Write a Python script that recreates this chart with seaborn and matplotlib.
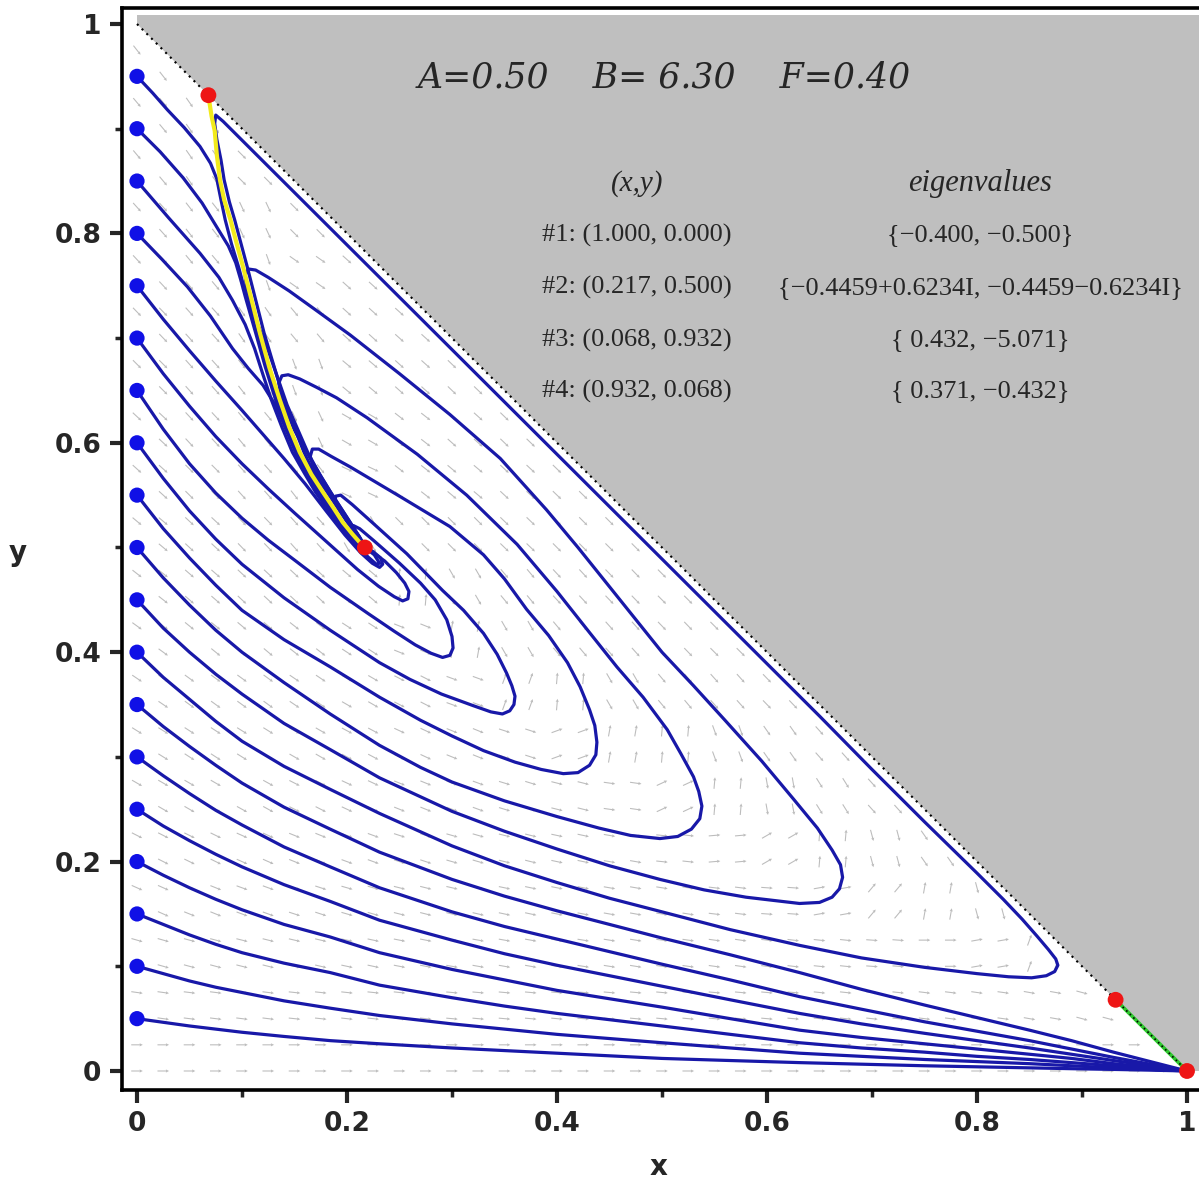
import numpy as np
import pandas as pd
import matplotlib
matplotlib.use("Agg")
import matplotlib.pyplot as plt
import seaborn as sns

# ---------------- data ----------------
start_y = [0.05, 0.10, 0.15, 0.20, 0.25, 0.30, 0.35, 0.40, 0.45, 0.50,
           0.55, 0.60, 0.65, 0.70, 0.75, 0.80, 0.85, 0.90, 0.95]

# fixed points (#1..#4)
fixed_x = [1.000, 0.217, 0.068, 0.932]
fixed_y = [0.000, 0.500, 0.932, 0.068]

# trajectories ending in (1, 0)
low_x = [0, 0.025, 0.05, 0.075, 0.10, 0.14, 0.184, 0.231, 0.30, 0.35, 0.40, 0.45, 0.50,
         0.565, 0.631, 0.69, 0.75, 0.80, 0.85, 0.89, 0.93, 0.965, 1.0]
t05_y = [0.05, 0.0465, 0.043, 0.040, 0.037, 0.033, 0.029, 0.026, 0.022, 0.0195, 0.017, 0.0145, 0.012,
         0.010, 0.008, 0.0065, 0.005, 0.004, 0.003, 0.0022, 0.0015, 0.0008, 0.0]
t10_y = [0.10, 0.093, 0.086, 0.080, 0.075, 0.067, 0.060, 0.053, 0.045, 0.040, 0.035, 0.031, 0.027,
         0.022, 0.017, 0.014, 0.011, 0.009, 0.007, 0.005, 0.003, 0.0015, 0.0]
t15_y = [0.15, 0.140, 0.130, 0.121, 0.113, 0.103, 0.094, 0.082, 0.070, 0.062, 0.055, 0.049, 0.043,
         0.035, 0.027, 0.022, 0.018, 0.014, 0.011, 0.008, 0.005, 0.0025, 0.0]
t20_y = [0.20, 0.187, 0.175, 0.164, 0.154, 0.140, 0.128, 0.113, 0.097, 0.087, 0.077, 0.069, 0.061,
         0.050, 0.039, 0.032, 0.026, 0.021, 0.016, 0.012, 0.007, 0.0035, 0.0]
t25_y = [0.25, 0.234, 0.220, 0.207, 0.195, 0.178, 0.162, 0.144, 0.125, 0.112, 0.101, 0.091, 0.081,
         0.068, 0.055, 0.045, 0.036, 0.029, 0.022, 0.016, 0.010, 0.005, 0.0]
t30_y = [0.30, 0.282, 0.265, 0.249, 0.235, 0.214, 0.195, 0.175, 0.152, 0.138, 0.126, 0.114, 0.102,
         0.087, 0.071, 0.059, 0.047, 0.038, 0.029, 0.021, 0.013, 0.0065, 0.0]
t35_y = [0.35, 0.329, 0.310, 0.292, 0.275, 0.252, 0.231, 0.209, 0.183, 0.167, 0.153, 0.140, 0.127,
         0.111, 0.094, 0.078, 0.063, 0.051, 0.039, 0.029, 0.018, 0.009, 0.0]

# trajectories spiralling into (0.217, 0.5)
t40_x = [0, 0.025, 0.05, 0.075, 0.10, 0.14, 0.184, 0.231, 0.30, 0.35, 0.40, 0.45, 0.50, 0.565, 0.631,
         0.69, 0.75, 0.80, 0.83, 0.852, 0.866, 0.874, 0.877, 0.875, 0.868, 0.857, 0.843, 0.825,
         0.80, 0.75, 0.70, 0.65, 0.60, 0.50, 0.40, 0.30, 0.20, 0.14, 0.10, 0.082, 0.075,
         0.074, 0.076, 0.080, 0.083, 0.088, 0.093, 0.105, 0.121, 0.140, 0.150, 0.159, 0.169,
         0.181, 0.199, 0.212, 0.217]
t40_y = [0.40, 0.376, 0.355, 0.334, 0.315, 0.291, 0.269, 0.246, 0.215, 0.196, 0.180, 0.165, 0.152, 0.135, 0.120,
         0.108, 0.099, 0.093, 0.090, 0.089, 0.091, 0.095, 0.101, 0.107, 0.116, 0.129, 0.145, 0.164,
         0.189, 0.238, 0.288, 0.339, 0.389, 0.489, 0.589, 0.689, 0.789, 0.849, 0.889, 0.907, 0.913,
         0.905, 0.890, 0.870, 0.851, 0.830, 0.813, 0.768, 0.705, 0.641, 0.614, 0.591, 0.570,
         0.553, 0.526, 0.508, 0.500]

t45_x = [0, 0.025, 0.05, 0.075, 0.10, 0.14, 0.184, 0.231, 0.30, 0.35, 0.40, 0.45, 0.498, 0.54, 0.58,
         0.631, 0.650, 0.662, 0.669, 0.672, 0.670, 0.662, 0.648, 0.625, 0.595, 0.56, 0.53, 0.50,
         0.46, 0.42, 0.39, 0.346, 0.298, 0.25, 0.203, 0.170, 0.145, 0.125, 0.113, 0.106,
         0.103, 0.104, 0.108, 0.113, 0.125, 0.143, 0.163, 0.175, 0.185, 0.203, 0.213, 0.217]
t45_y = [0.45, 0.423, 0.400, 0.379, 0.360, 0.332, 0.307, 0.280, 0.248, 0.229, 0.212, 0.196, 0.183, 0.173, 0.166,
         0.160, 0.161, 0.166, 0.174, 0.185, 0.197, 0.211, 0.232, 0.260, 0.296, 0.335, 0.368, 0.400,
         0.450, 0.500, 0.536, 0.585, 0.627, 0.666, 0.703, 0.727, 0.745, 0.758, 0.765, 0.766,
         0.760, 0.750, 0.735, 0.718, 0.688, 0.636, 0.590, 0.568, 0.552, 0.524, 0.508, 0.500]

t50_x = [0, 0.025, 0.05, 0.075, 0.10, 0.14, 0.184, 0.231, 0.27, 0.30, 0.35, 0.40, 0.44, 0.47, 0.498,
         0.515, 0.528, 0.536, 0.538, 0.535, 0.530, 0.518, 0.505, 0.482, 0.457, 0.43, 0.40, 0.362,
         0.314, 0.267, 0.219, 0.19, 0.171, 0.155, 0.144, 0.138, 0.135, 0.137, 0.140, 0.150,
         0.165, 0.186, 0.203, 0.213, 0.217]
t50_y = [0.50, 0.471, 0.445, 0.421, 0.400, 0.371, 0.341, 0.311, 0.290, 0.276, 0.258, 0.243, 0.232, 0.225, 0.222,
         0.224, 0.231, 0.241, 0.253, 0.267, 0.281, 0.303, 0.326, 0.357, 0.386, 0.420, 0.458, 0.503,
         0.550, 0.589, 0.624, 0.643, 0.653, 0.661, 0.665, 0.664, 0.657, 0.646, 0.636, 0.612,
         0.585, 0.550, 0.524, 0.508, 0.500]

t55_x = [0, 0.025, 0.05, 0.075, 0.10, 0.14, 0.184, 0.231, 0.27, 0.30, 0.33, 0.36, 0.385, 0.406,
         0.42, 0.431, 0.437, 0.438, 0.436, 0.431, 0.422, 0.410, 0.392, 0.371, 0.350, 0.330,
         0.298, 0.25, 0.203, 0.185, 0.173, 0.167, 0.165, 0.168, 0.175, 0.186, 0.200, 0.212, 0.217]
t55_y = [0.55, 0.518, 0.490, 0.464, 0.440, 0.412, 0.386, 0.357, 0.335, 0.320, 0.306, 0.295, 0.288, 0.284,
         0.285, 0.292, 0.302, 0.314, 0.330, 0.345, 0.367, 0.390, 0.416, 0.441, 0.470, 0.493,
         0.520, 0.549, 0.577, 0.587, 0.594, 0.594, 0.587, 0.576, 0.563, 0.548, 0.527, 0.510, 0.500]

t60_x = [0, 0.025, 0.05, 0.075, 0.10, 0.14, 0.184, 0.231, 0.26, 0.29, 0.32, 0.337, 0.348, 0.355,
         0.359, 0.360, 0.357, 0.352, 0.343, 0.330, 0.311, 0.291, 0.257, 0.225, 0.205, 0.194,
         0.189, 0.189, 0.196, 0.207, 0.217]
t60_y = [0.60, 0.566, 0.535, 0.508, 0.484, 0.452, 0.421, 0.390, 0.374, 0.360, 0.349, 0.343, 0.341, 0.344,
         0.350, 0.358, 0.368, 0.380, 0.398, 0.418, 0.440, 0.459, 0.494, 0.523, 0.541, 0.550,
         0.549, 0.542, 0.531, 0.515, 0.500]

t65_x = [0, 0.025, 0.05, 0.075, 0.10, 0.125, 0.15, 0.184, 0.22, 0.245, 0.265, 0.28, 0.291, 0.298,
         0.301, 0.300, 0.295, 0.284, 0.270, 0.250, 0.225, 0.212, 0.206, 0.206, 0.212, 0.217]
t65_y = [0.65, 0.613, 0.580, 0.552, 0.528, 0.507, 0.488, 0.462, 0.437, 0.420, 0.407, 0.399, 0.395, 0.397,
         0.404, 0.415, 0.431, 0.450, 0.466, 0.485, 0.507, 0.518, 0.521, 0.515, 0.507, 0.500]

t70_x = [0, 0.025, 0.05, 0.075, 0.10, 0.125, 0.15, 0.17, 0.19, 0.21, 0.23, 0.245, 0.253, 0.258,
         0.259, 0.255, 0.247, 0.236, 0.225, 0.217]
t70_y = [0.70, 0.666, 0.635, 0.606, 0.580, 0.556, 0.533, 0.515, 0.497, 0.479, 0.463, 0.453, 0.449, 0.451,
         0.458, 0.466, 0.476, 0.487, 0.495, 0.500]

t75_x = [0, 0.025, 0.05, 0.075, 0.10, 0.12, 0.14, 0.16, 0.18, 0.198, 0.213, 0.224, 0.231, 0.234,
         0.232, 0.225, 0.217]
t75_y = [0.75, 0.718, 0.688, 0.659, 0.631, 0.608, 0.585, 0.561, 0.535, 0.512, 0.495, 0.485, 0.481, 0.484,
         0.490, 0.496, 0.500]

t80_x = [0, 0.024, 0.048, 0.07, 0.091, 0.106, 0.12, 0.133, 0.142, 0.150, 0.16, 0.172, 0.192, 0.208,
         0.220, 0.228, 0.231, 0.226, 0.217]
t80_y = [0.80, 0.775, 0.749, 0.721, 0.690, 0.671, 0.655, 0.634, 0.613, 0.594, 0.573, 0.553, 0.523, 0.504,
         0.491, 0.484, 0.485, 0.493, 0.500]

t85_x = [0, 0.03, 0.06, 0.078, 0.091, 0.103, 0.112, 0.120, 0.128, 0.138, 0.148, 0.160, 0.170, 0.190,
         0.207, 0.217]
t85_y = [0.85, 0.815, 0.781, 0.758, 0.736, 0.713, 0.690, 0.665, 0.641, 0.615, 0.591, 0.570, 0.553, 0.524,
         0.505, 0.500]

t90_x = [0, 0.022, 0.044, 0.062, 0.076, 0.087, 0.094, 0.099, 0.103, 0.113, 0.122, 0.132, 0.141, 0.151,
         0.162, 0.173, 0.192, 0.208, 0.217]
t90_y = [0.90, 0.878, 0.853, 0.829, 0.806, 0.788, 0.772, 0.755, 0.740, 0.705, 0.673, 0.641, 0.615, 0.591,
         0.570, 0.553, 0.524, 0.505, 0.500]

t95_x = [0, 0.015, 0.029, 0.045, 0.060, 0.070, 0.076, 0.080, 0.084, 0.090, 0.097, 0.105, 0.114, 0.124,
         0.133, 0.142, 0.152, 0.163, 0.174, 0.193, 0.209, 0.217]
t95_y = [0.95, 0.934, 0.918, 0.901, 0.883, 0.867, 0.852, 0.832, 0.813, 0.790, 0.767, 0.737, 0.705, 0.672,
         0.641, 0.615, 0.591, 0.570, 0.553, 0.524, 0.505, 0.500]

# unstable manifold of the saddle #3 (yellow) and of #4 (green)
yellow_x = [0.068, 0.069, 0.071, 0.074, 0.076, 0.079, 0.083, 0.089, 0.095, 0.101, 0.109, 0.117, 0.126,
            0.136, 0.145, 0.155, 0.166, 0.177, 0.187, 0.196, 0.205, 0.212, 0.217]
yellow_y = [0.932, 0.925, 0.912, 0.898, 0.875, 0.851, 0.832, 0.813, 0.790, 0.768, 0.737, 0.705, 0.672,
            0.641, 0.615, 0.591, 0.570, 0.553, 0.538, 0.524, 0.513, 0.505, 0.500]
green_x = [0.932, 1.000]
green_y = [0.068, 0.000]

# direction-field dash orientation (degrees), rows y = 0, 0.05, ..., columns x = 0, 0.05, ...
field_angle_rows = [
    [0] * 20,
    [-8, -7, -7, -6, -6, -6, -5, -5, -5, -5, -5, -5, -5, -6, -6, -7, -8, -10, -15],
    [-16, -15, -14, -13, -12, -11, -10, -10, -9, -9, -8, -8, -7, -6, -4, 0, 10, 70],
    [-24, -22, -20, -18, -16, -14, -13, -12, -11, -10, -9, -7, -4, 10, 50, 80, -75],
    [-27, -26, -24, -22, -20, -18, -16, -14, -12, -10, -6, 5, 30, 85, -75, -55],
    [-30, -30, -29, -27, -25, -22, -20, -17, -14, -8, 25, 85, -80, -58, -48],
    [-32, -33, -32, -30, -28, -25, -22, -18, 20, 80, 85, -70, -55, -48],
    [-34, -36, -36, -34, -30, -27, -20, 70, 85, -60, -50, -48, -46],
    [-36, -39, -40, -38, -33, -22, 80, -60, -50, -48, -46, -45],
    [-38, -41, -43, -43, -40, 85, -60, -50, -47, -46, -45],
    [-40, -43, -46, -48, -60, -45, -45, -44, -45, -45],
    [-42, -45, -48, -52, -25, -38, -40, -43, -44],
    [-43, -47, -50, -65, -30, -38, -42, -44],
    [-45, -48, -52, -70, -40, -42, -44],
    [-46, -48, -55, -50, -42, -42],
    [-47, -50, -70, -35, -42],
    [-48, -52, -65, -45],
    [-50, -55, -45],
    [-50, -55],
    [-52],
]

title_text = "A=0.50    B= 6.30    F=0.40"
table_head = ["(x,y)", "eigenvalues"]
table_points = ["#1: (1.000, 0.000)", "#2: (0.217, 0.500)", "#3: (0.068, 0.932)", "#4: (0.932, 0.068)"]
table_eigs = ["{\u22120.400, \u22120.500}",
              "{\u22120.4459+0.6234I, \u22120.4459\u22120.6234I}",
              "{ 0.432, \u22125.071}",
              "{ 0.371, \u22120.432}"]
tick_vals = [0, 0.2, 0.4, 0.6, 0.8, 1.0]
tick_labels = ["0", "0.2", "0.4", "0.6", "0.8", "1"]

# ---------------- build tables ----------------
traj_list = [
    (low_x, t05_y), (low_x, t10_y), (low_x, t15_y), (low_x, t20_y), (low_x, t25_y),
    (low_x, t30_y), (low_x, t35_y), (t40_x, t40_y), (t45_x, t45_y), (t50_x, t50_y),
    (t55_x, t55_y), (t60_x, t60_y), (t65_x, t65_y), (t70_x, t70_y), (t75_x, t75_y),
    (t80_x, t80_y), (t85_x, t85_y), (t90_x, t90_y), (t95_x, t95_y),
]
rows = []
for k, (xs, ys) in enumerate(traj_list):
    for o, (xv, yv) in enumerate(zip(xs, ys)):
        rows.append({"traj": k, "order": o, "x": xv, "y": yv})
traj_df = pd.DataFrame(rows)

# each read orientation is shown as the 2x2 block of dashes of its grid cell
fx, fy, fa = [], [], []
for j, row in enumerate(field_angle_rows):
    for i, ang in enumerate(row):
        for dx in (0.0, 0.025):
            for dy in (0.0, 0.025):
                px_, py_ = 0.05 * i + dx, 0.05 * j + dy
                if px_ + py_ <= 0.976 and px_ <= 0.976:
                    fx.append(px_)
                    fy.append(py_)
                    fa.append(ang)
fx = np.array(fx); fy = np.array(fy); fa = np.deg2rad(np.array(fa))

# ---------------- plotting ----------------
sns.set_style("ticks")
plt.rcParams["font.family"] = ["DejaVu Sans"]

fig = plt.figure(figsize=(11.99, 11.84), dpi=100)
ax = fig.add_axes([122 / 1199, (1184 - 1090) / 1184, (1199 - 122) / 1199, (1090 - 8) / 1184])
ax.set_xlim(-0.01429, 1.01143)
ax.set_ylim(-0.01815, 1.01528)

# excluded region
ax.add_patch(plt.Polygon([(0, 1.0), (0, 1.0086), (1.03, 1.0086), (1.03, 0.0), (1.0, 0.0)],
                         closed=True, facecolor="#bfbfbf", edgecolor="none", zorder=0))

# direction field
ax.quiver(fx, fy, np.cos(fa), np.sin(fa), angles="uv", scale_units="xy", scale=1 / 0.011,
          pivot="middle", color="#bcbcbc", width=0.001, headwidth=3, headlength=3,
          headaxislength=2.6, zorder=1)

# trajectories
sns.lineplot(data=traj_df, x="x", y="y", units="traj", estimator=None, sort=False,
             color="#1818a8", linewidth=2.3, ax=ax, zorder=3, legend=False)

# manifolds
sns.lineplot(x=yellow_x, y=yellow_y, sort=False, estimator=None, color="#f2ea1c",
             linewidth=3.0, ax=ax, zorder=4)
sns.lineplot(x=green_x, y=green_y, sort=False, estimator=None, color="#2ec82e",
             linewidth=2.6, ax=ax, zorder=4)
ax.plot(green_x, green_y, color="black", linestyle=(0, (1, 2)), linewidth=1.2, zorder=5)

# boundary x + y = 1
ax.plot([0, 1], [1, 0], color="black", linestyle=(0, (1, 2.2)), linewidth=1.5, zorder=2)

# start points and fixed points
sns.scatterplot(x=[0] * len(start_y), y=start_y, color="#1010e6", s=120, edgecolor="none",
                ax=ax, zorder=6)
sns.scatterplot(x=fixed_x, y=fixed_y, color="#ee1515", s=130, edgecolor="none", ax=ax, zorder=7)

# texts
ax.text(0.502, 0.949, title_text, ha="center", va="center", fontsize=25,
        family="DejaVu Serif", style="italic", zorder=8)
ax.text(0.476, 0.848, table_head[0], ha="center", va="center", fontsize=21,
        family="Liberation Serif", style="italic", zorder=8)
ax.text(0.803, 0.848, table_head[1], ha="center", va="center", fontsize=22,
        family="Liberation Serif", style="italic", zorder=8)
row_y = [0.798, 0.748, 0.698, 0.649]
for ty, p, e in zip(row_y, table_points, table_eigs):
    ax.text(0.476, ty, p, ha="center", va="center", fontsize=19,
            family="Liberation Serif", zorder=8)
    ax.text(0.803, ty, e, ha="center", va="center", fontsize=19,
            family="Liberation Serif", zorder=8)

# axes styling
ax.set_xticks(tick_vals)
ax.set_xticklabels(tick_labels)
ax.set_yticks(tick_vals)
ax.set_yticklabels(tick_labels)
ax.set_xticks([0.1, 0.3, 0.5, 0.7, 0.9], minor=True)
ax.set_yticks([0.1, 0.3, 0.5, 0.7, 0.9], minor=True)
ax.tick_params(which="major", direction="out", length=9, width=3, labelsize=19, pad=6)
ax.tick_params(which="minor", direction="out", length=5, width=2.5)
for lab in ax.get_xticklabels() + ax.get_yticklabels():
    lab.set_fontweight("bold")
for side in ["left", "bottom", "top"]:
    ax.spines[side].set_linewidth(2.6)
    ax.spines[side].set_color("black")
ax.spines["right"].set_visible(False)
ax.set_xlabel("x", fontsize=20, fontweight="bold")
ax.set_ylabel("y", fontsize=20, fontweight="bold", rotation=0, va="center", ha="center")
ax.yaxis.set_label_coords(-0.097, 0.4963)
ax.xaxis.set_label_coords(0.498, -0.058)

fig.savefig("out.png", dpi=100)
